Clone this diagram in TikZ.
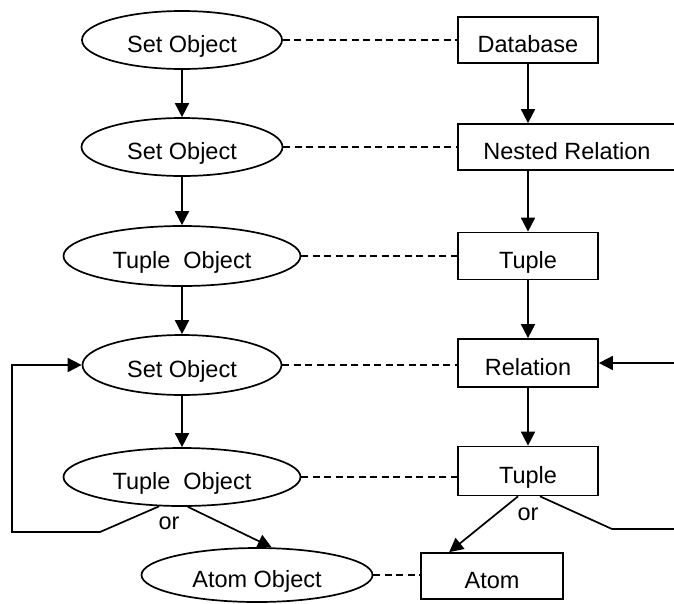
\documentclass[tikz,border=0pt]{standalone}
\usepackage{fontspec}
\setmainfont{Liberation Sans}
\usetikzlibrary{shapes.geometric,arrows.meta}
\begin{document}
\begin{tikzpicture}[x=1pt,y=-1pt,
  every node/.style={font=\fontsize{23.5}{28}\selectfont},
  box/.style={draw, line width=1.7pt, text height=24pt, text depth=0pt, inner sep=0pt},
  obj/.style={box, ellipse, minimum height=58pt},
  rel/.style={box, rectangle, minimum width=140pt, minimum height=47pt},
  link/.style={line width=1.7pt, dash pattern=on 7pt off 4.5pt},
  flow/.style={line width=1.7pt, -{Triangle[length=14pt,width=14pt]}},
  plain/.style={line width=1.7pt},
]
\useasboundingbox (0,0) rectangle (674,603);

% object side
\node[obj, minimum width=200pt] (so1) at (182,40) {Set Object};
\node[obj, minimum width=201pt] (so2) at (182,147) {Set Object};
\node[obj, minimum width=237pt, minimum height=60pt] (to1) at (182,256) {Tuple\hspace{0.55em}Object};
\node[obj, minimum width=199pt, minimum height=60pt] (so3) at (182,365) {Set Object};
\node[obj, minimum width=237pt] (to2) at (182,477) {Tuple\hspace{0.55em}Object};
\node[obj, minimum width=231pt, minimum height=54pt] (ao) at (257,575) {Atom Object};

% relational side
\node[rel, minimum height=46pt] (db) at (528,40) {Database};
\node[rel, minimum width=218pt, minimum height=46pt] (nr) at (567,147) {Nested Relation};
\node[rel] (tp1) at (528,256) {Tuple};
\node[rel, minimum height=48pt] (rl) at (528,363) {Relation};
\node[rel, minimum height=49pt] (tp2) at (528,471) {Tuple};
\node[rel, minimum width=142pt, minimum height=46pt] (at) at (492,576) {Atom};

% correspondences
\draw[link] (so1.east) -- (so1.east -| db.west);
\draw[link] (so2.east) -- (so2.east -| nr.west);
\draw[link] (to1.east) -- (to1.east -| tp1.west);
\draw[link] (so3.east) -- (so3.east -| rl.west);
\draw[link] (to2.east) -- (to2.east -| tp2.west);
\draw[link] (ao.east) -- (ao.east -| at.west);

% nesting, object side
\draw[flow] (so1) -- (so2);
\draw[flow] (so2) -- (to1);
\draw[flow] (to1) -- (so3);
\draw[flow] (so3) -- (to2);
\draw[flow] (to2.281) -- (ao.62);
\coordinate (lb) at (100,532);
\coordinate (lc) at (12,532);
\draw[flow] (to2.232) -- (lb) -- (lc) -- (lc |- so3.west) -- (so3.west);
\node (or1) at (169,523) {or};

% nesting, relational side
\draw[flow] (db.south) -- (db.south |- nr.north);
\draw[flow] (nr.south -| tp1.north) -- (tp1.north);
\draw[flow] (tp1) -- (rl);
\draw[flow] (rl) -- (tp2);
\draw[flow] ([xshift=-10pt]tp2.south) -- ([xshift=29pt]at.north west);
\coordinate (rb) at (612,529);
\coordinate (rc) at (680,529);
\draw[plain] ([xshift=12pt]tp2.south) -- (rb) -- (rc);
\coordinate (ra) at (680,363);
\draw[flow] (ra) -- (ra -| rl.east);
\node (or2) at (528,514) {or};
\end{tikzpicture}
\end{document}
